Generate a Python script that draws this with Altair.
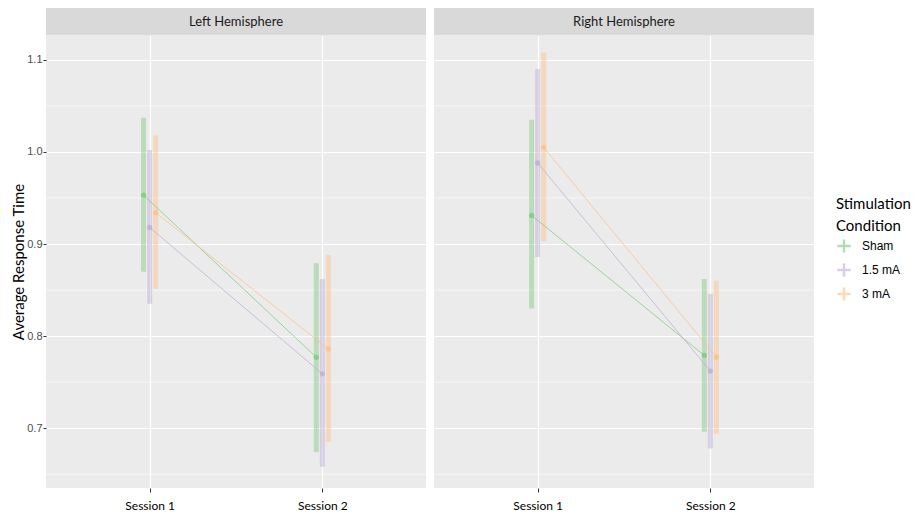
import altair as alt
import pandas as pd

# ---- data ----
hemispheres = ["Left Hemisphere"] * 6 + ["Right Hemisphere"] * 6
sessions = [1, 1, 1, 2, 2, 2] * 2
conditions = ["Sham", "1.5 mA", "3 mA"] * 4
means = [0.953, 0.918, 0.934, 0.777, 0.759, 0.786,
         0.931, 0.988, 1.005, 0.779, 0.762, 0.777]
lowers = [0.870, 0.835, 0.851, 0.674, 0.658, 0.685,
          0.830, 0.886, 0.903, 0.696, 0.678, 0.694]
uppers = [1.037, 1.002, 1.018, 0.879, 0.862, 0.888,
          1.035, 1.090, 1.108, 0.862, 0.846, 0.860]

condition_order = ["Sham", "1.5 mA", "3 mA"]
condition_colors = ["#7fc97f", "#beaed4", "#fdc086"]
major_ticks = [0.7, 0.8, 0.9, 1.0, 1.1]
minor_ticks = [0.65, 0.75, 0.85, 0.95, 1.05]
session_ticks = [1, 2]

df = pd.DataFrame({
    "hemisphere": hemispheres,
    "session": sessions,
    "condition": conditions,
    "mean": means,
    "lower": lowers,
    "upper": uppers,
})
minor_df = pd.DataFrame({"v": minor_ticks})

PANEL_W = 380
PANEL_H = 453
STRIP_H = 27
DODGE = 0.035

yscale = alt.Scale(domain=[0.635, 1.127], nice=False, zero=False)
xscale = alt.Scale(domain=[0.4, 2.6], nice=False, zero=False)
color = alt.Color(
    "condition:N",
    scale=alt.Scale(domain=condition_order, range=condition_colors),
    legend=alt.Legend(
        title=["Stimulation", "Condition"],
        titleFont="Lato", titleFontSize=15, titleFontWeight="normal",
        titleColor="black", titleLineHeight=22, titlePadding=4,
        labelFont="Liberation Sans", labelFontSize=12, labelColor="black",
        symbolType="M-1,0L1,0M0,-1L0,1", symbolSize=170,
        symbolStrokeWidth=2.5, symbolOpacity=0.6, rowPadding=0,
        labelOffset=10,
        orient="none", legendX=790, legendY=162,
    ),
)


def y_axis(show):
    if show:
        return alt.Axis(values=major_ticks, grid=True, gridColor="white",
                        gridWidth=1.2, domain=False, tickColor="#333333",
                        tickSize=3, labelColor="#4D4D4D",
                        labelFont="Liberation Sans", labelFontSize=11,
                        labelPadding=1, format=".1f",
                        title="Average Response Time", titleFont="Lato",
                        titleFontSize=15, titleFontWeight="normal",
                        titleColor="black", titlePadding=0)
    return alt.Axis(values=major_ticks, grid=True, gridColor="white",
                    gridWidth=1.2, domain=False, ticks=False, labels=False,
                    labelPadding=0, title=None)


x_axis = alt.Axis(values=session_ticks, grid=True, gridColor="white",
                  gridWidth=1.2, domain=False, tickColor="#333333",
                  tickSize=4, labelFont="Lato", labelFontSize=12,
                  labelColor="black", labelPadding=8,
                  labelExpr="'Session ' + datum.value", title=None)


def panel(hemi, show_y):
    ya = y_axis(show_y)
    strip_df = pd.DataFrame({"hemisphere": [hemi]})
    strip = alt.Chart(strip_df).mark_rect(color="#D9D9D9").encode(
        x=alt.value(0), x2=alt.value(PANEL_W),
        y=alt.value(-STRIP_H), y2=alt.value(0))
    strip_text = alt.Chart(strip_df).mark_text(
        font="Lato", fontSize=13, color="#1A1A1A").encode(
        x=alt.value(PANEL_W / 2), y=alt.value(-STRIP_H / 2),
        text="hemisphere:N")
    minor = alt.Chart(minor_df).mark_rule(color="white", strokeWidth=0.6).encode(
        y=alt.Y("v:Q", scale=yscale, axis=ya))

    base = alt.Chart(df).transform_filter(
        alt.datum.hemisphere == hemi
    ).transform_calculate(
        xpos=f"datum.session + (indexof({condition_order}, datum.condition) - 1) * {DODGE}"
    )
    X = alt.X("xpos:Q", scale=xscale, axis=x_axis)
    bars = base.mark_rule(strokeWidth=5, opacity=0.45).encode(
        x=X, y=alt.Y("lower:Q", scale=yscale, axis=ya), y2="upper:Q",
        color=color)
    lines = base.mark_line(strokeWidth=1, opacity=0.75).encode(
        x=X, y=alt.Y("mean:Q", scale=yscale, axis=ya), color=color,
        detail="condition:N")
    points = base.mark_circle(size=28, opacity=0.8).encode(
        x=X, y=alt.Y("mean:Q", scale=yscale, axis=ya), color=color)
    return alt.layer(strip, strip_text, minor, bars, lines, points).properties(
        width=PANEL_W, height=PANEL_H)


chart = alt.hconcat(
    panel("Left Hemisphere", True),
    panel("Right Hemisphere", False),
    spacing=6,
).properties(
    padding={"left": 3, "top": 0, "right": 0, "bottom": 0},
    background="white",
).configure_view(
    fill="#EBEBEB", strokeWidth=0
)

chart.save("out.html", embed_options={"renderer": "svg", "actions": False})
